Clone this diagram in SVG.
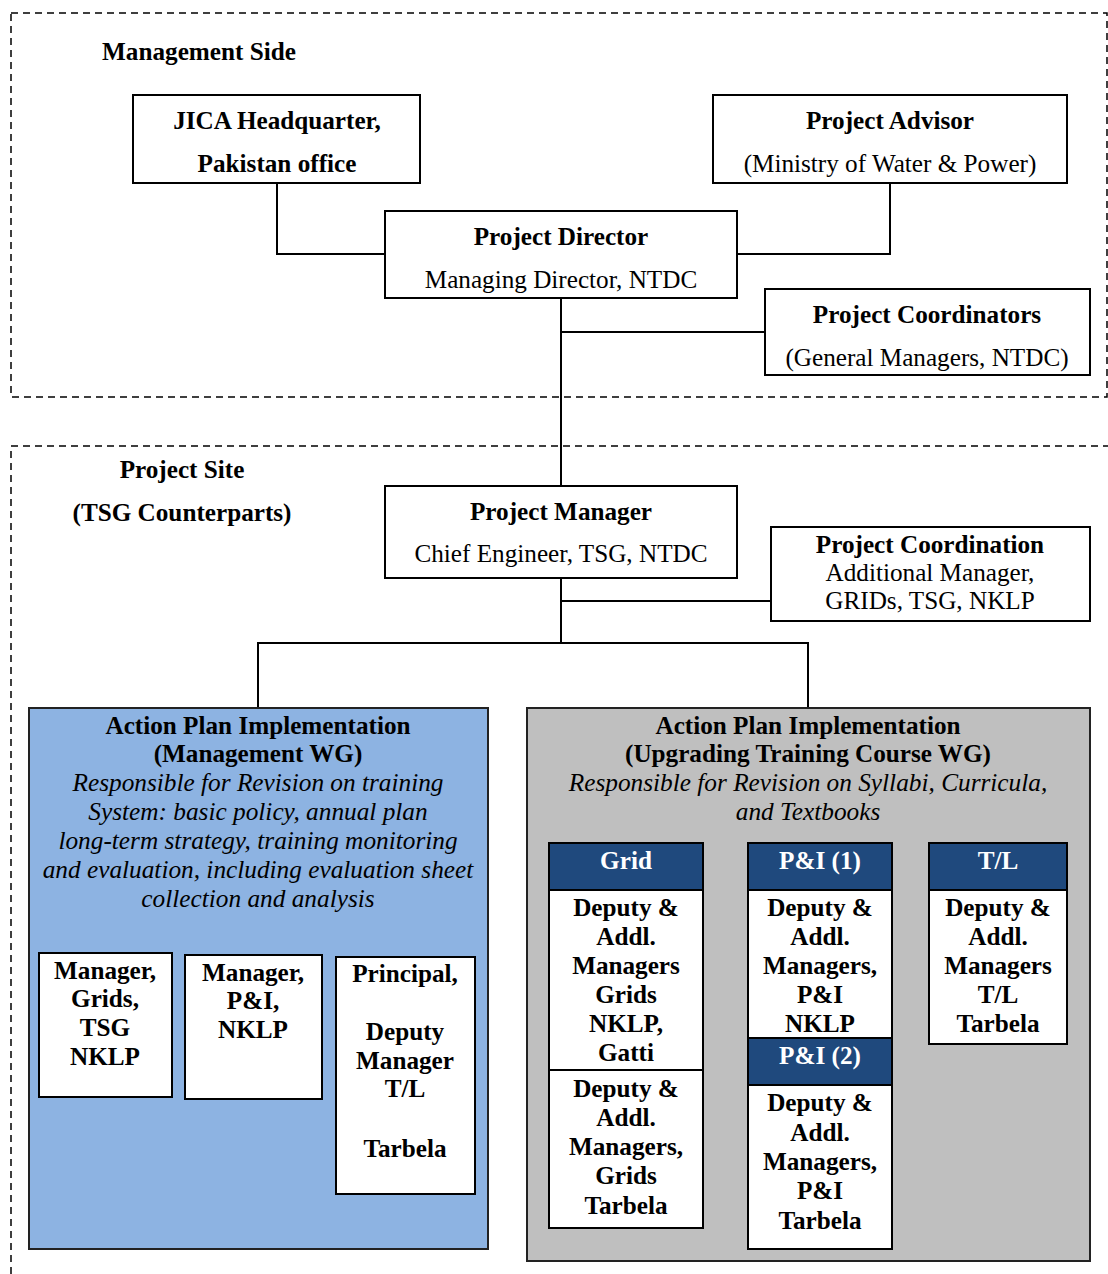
<svg xmlns="http://www.w3.org/2000/svg" width="1108" height="1274" viewBox="0 0 1108 1274">
<style>
text{font-family:"Liberation Serif","Times New Roman",serif;font-size:25.2px;fill:#000;text-anchor:middle}
.b{font-weight:bold}
.i{font-style:italic;font-size:25.3px}
.w{fill:#fff}
.box{fill:#fff;stroke:#000;stroke-width:2}
.dash{fill:none;stroke:#000;stroke-width:1.5;stroke-dasharray:7 5}
.hdr{fill:#1F497D;stroke:#000;stroke-width:2}
.con{fill:none;stroke:#000;stroke-width:2}
</style>
<rect width="1108" height="1274" fill="#fff"/>
<g id="zones">
<rect class="dash" x="11" y="13" width="1096" height="384"/>
<path class="dash" d="M11 1274 V446 H1108"/>
<text class="b" x="199" y="60">Management Side</text>
<text class="b" x="182" y="478">Project Site</text>
<text class="b" x="182" y="521">(TSG Counterparts)</text>
</g>
<g id="connectors">
<path class="con" d="M277 183 V254 H385"/>
<path class="con" d="M890 183 V254 H737"/>
<path class="con" d="M561 298 V486"/>
<path class="con" d="M561 332 H765"/>
<path class="con" d="M561 578 V643"/>
<path class="con" d="M561 601 H771"/>
<path class="con" d="M258 708 V643 H808 V708"/>
</g>
<g id="jica">
<rect class="box" x="133" y="95" width="287" height="88"/>
<text class="b" x="277" y="129">JICA Headquarter,</text>
<text class="b" x="277" y="172">Pakistan office</text>
</g>
<g id="advisor">
<rect class="box" x="713" y="95" width="354" height="88"/>
<text class="b" x="890" y="129">Project Advisor</text>
<text x="890" y="172">(Ministry of Water &amp; Power)</text>
</g>
<g id="director">
<rect class="box" x="385" y="211" width="352" height="87"/>
<text class="b" x="561" y="245">Project Director</text>
<text x="561" y="288">Managing Director, NTDC</text>
</g>
<g id="coordinators">
<rect class="box" x="765" y="289" width="325" height="86"/>
<text class="b" x="927" y="323">Project Coordinators</text>
<text x="927" y="366">(General Managers, NTDC)</text>
</g>
<g id="manager">
<rect class="box" x="385" y="486" width="352" height="92"/>
<text class="b" x="561" y="520">Project Manager</text>
<text x="561" y="562">Chief Engineer, TSG, NTDC</text>
</g>
<g id="coordination">
<rect class="box" x="771" y="527" width="319" height="94"/>
<text class="b" x="930" y="553">Project Coordination</text>
<text x="930" y="581">Additional Manager,</text>
<text x="930" y="609">GRIDs, TSG, NKLP</text>
</g>
<g id="mgmt-wg">
<rect x="29" y="708" width="459" height="541" fill="#8DB3E2" stroke="#222" stroke-width="2"/>
<text class="b" x="258" y="734">Action Plan Implementation</text>
<text class="b" x="258" y="762">(Management WG)</text>
<text class="i" x="258" y="791">Responsible for Revision on training</text>
<text class="i" x="258" y="820">System: basic policy, annual plan</text>
<text class="i" x="258" y="849">long-term strategy, training monitoring</text>
<text class="i" x="258" y="878">and evaluation, including evaluation sheet</text>
<text class="i" x="258" y="907">collection and analysis</text>
</g>
<g id="mgr-grids">
<rect class="box" x="39" y="953" width="133" height="144"/>
<text class="b" x="105" y="979">Manager,</text>
<text class="b" x="105" y="1007">Grids,</text>
<text class="b" x="105" y="1036">TSG</text>
<text class="b" x="105" y="1065">NKLP</text>
</g>
<g id="mgr-pi">
<rect class="box" x="185" y="955" width="137" height="144"/>
<text class="b" x="253" y="981">Manager,</text>
<text class="b" x="253" y="1009">P&amp;I,</text>
<text class="b" x="253" y="1038">NKLP</text>
</g>
<g id="principal">
<rect class="box" x="336" y="957" width="139" height="237"/>
<text class="b" x="405" y="982">Principal,</text>
<text class="b" x="405" y="1040">Deputy</text>
<text class="b" x="405" y="1069">Manager</text>
<text class="b" x="405" y="1097">T/L</text>
<text class="b" x="405" y="1157">Tarbela</text>
</g>
<g id="course-wg">
<rect x="527" y="708" width="563" height="553" fill="#BFBFBF" stroke="#222" stroke-width="2"/>
<text class="b" x="808" y="734">Action Plan Implementation</text>
<text class="b" x="808" y="762">(Upgrading Training Course WG)</text>
<text class="i" x="808" y="791">Responsible for Revision on Syllabi, Curricula,</text>
<text class="i" x="808" y="820">and Textbooks</text>
</g>
<g id="grid">
<rect class="hdr" x="549" y="843" width="154" height="47"/>
<text class="b w" x="626" y="869">Grid</text>
<rect class="box" x="549" y="890" width="154" height="180"/>
<text class="b" x="626" y="916">Deputy &amp;</text>
<text class="b" x="626" y="945">Addl.</text>
<text class="b" x="626" y="974">Managers</text>
<text class="b" x="626" y="1003">Grids</text>
<text class="b" x="626" y="1032">NKLP,</text>
<text class="b" x="626" y="1061">Gatti</text>
<rect class="box" x="549" y="1070" width="154" height="158"/>
<text class="b" x="626" y="1097">Deputy &amp;</text>
<text class="b" x="626" y="1126">Addl.</text>
<text class="b" x="626" y="1155">Managers,</text>
<text class="b" x="626" y="1184">Grids</text>
<text class="b" x="626" y="1214">Tarbela</text>
</g>
<g id="pi1">
<rect class="hdr" x="748" y="843" width="144" height="47"/>
<text class="b w" x="820" y="869">P&amp;I (1)</text>
<rect class="box" x="748" y="890" width="144" height="148"/>
<text class="b" x="820" y="916">Deputy &amp;</text>
<text class="b" x="820" y="945">Addl.</text>
<text class="b" x="820" y="974">Managers,</text>
<text class="b" x="820" y="1003">P&amp;I</text>
<text class="b" x="820" y="1032">NKLP</text>
</g>
<g id="pi2">
<rect class="hdr" x="748" y="1038" width="144" height="47"/>
<text class="b w" x="820" y="1064">P&amp;I (2)</text>
<rect class="box" x="748" y="1085" width="144" height="164"/>
<text class="b" x="820" y="1111">Deputy &amp;</text>
<text class="b" x="820" y="1141">Addl.</text>
<text class="b" x="820" y="1170">Managers,</text>
<text class="b" x="820" y="1199">P&amp;I</text>
<text class="b" x="820" y="1229">Tarbela</text>
</g>
<g id="tl">
<rect class="hdr" x="929" y="843" width="138" height="47"/>
<text class="b w" x="998" y="869">T/L</text>
<rect class="box" x="929" y="890" width="138" height="154"/>
<text class="b" x="998" y="916">Deputy &amp;</text>
<text class="b" x="998" y="945">Addl.</text>
<text class="b" x="998" y="974">Managers</text>
<text class="b" x="998" y="1003">T/L</text>
<text class="b" x="998" y="1032">Tarbela</text>
</g>
</svg>
